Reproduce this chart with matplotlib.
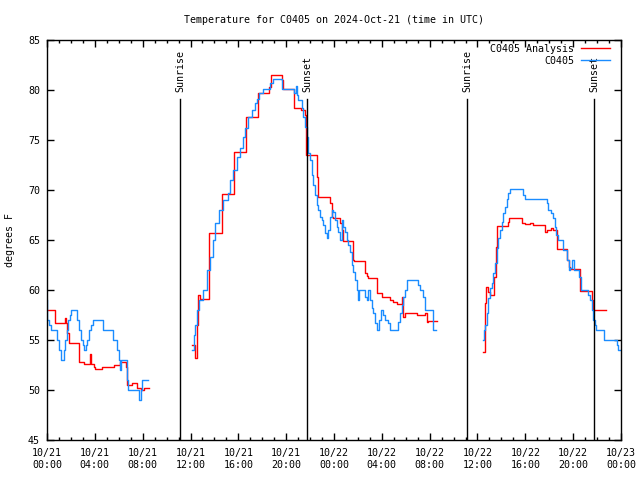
import matplotlib
matplotlib.use("Agg")
import matplotlib.pyplot as plt
from datetime import datetime, timedelta

# hours since 2024-10-21 00:00 UTC, temperature in degrees F
# ---- C0405 Analysis (red) ----
ana_am_h = [0.0, 0.65, 1.48, 1.59, 1.70, 1.84, 2.70, 3.09, 3.60, 3.65, 3.71, 3.93, 4.04,
            4.63, 5.60, 6.10, 6.58, 6.65, 7.14, 7.50, 7.83, 8.11, 8.53]
ana_am_t = [58.0, 56.7, 57.2, 56.7, 55.7, 54.7, 52.8, 52.6, 53.6, 52.9, 52.6, 52.3, 52.1,
            52.3, 52.5, 52.8, 52.3, 50.5, 50.7, 50.2, 50.0, 50.2, 50.2]
ana_day_h = [12.15, 12.38, 12.57, 12.63, 12.80, 13.57, 14.60, 15.67, 16.64, 17.62, 18.59,
             18.73, 19.63, 19.77, 20.66, 21.24, 21.58, 21.69, 22.55, 22.65, 23.67, 23.81,
             23.94, 24.50, 24.64, 24.78, 25.62, 25.70, 26.59, 26.73, 26.87, 27.62, 27.99,
             28.68, 28.96, 29.24, 29.66, 29.80, 29.94, 30.92, 31.62, 31.76, 31.85, 32.60]
ana_day_t = [54.5, 53.2, 56.5, 59.5, 59.1, 65.7, 69.6, 73.8, 77.3, 79.7, 80.3,
             81.5, 81.0, 80.1, 78.2, 78.0, 77.5, 73.5, 71.3, 69.3, 68.7, 67.3,
             67.2, 66.7, 66.0, 64.9, 63.0, 62.9, 61.7, 61.4, 61.2, 59.7, 59.3,
             59.0, 58.8, 58.6, 59.3, 57.3, 57.7, 57.5, 57.7, 56.8, 56.9, 56.9]
ana_d2_h = [36.49, 36.60, 36.70, 36.88, 37.05, 37.38, 37.52, 37.63, 38.58, 38.67, 39.70,
            39.97, 40.39, 40.67, 41.65, 41.79, 42.16, 42.35, 42.63, 43.47, 43.61, 43.75,
            44.58, 45.61, 45.70, 46.73]
ana_d2_t = [53.8, 58.7, 60.3, 59.8, 59.5, 61.3, 64.3, 66.4, 66.8, 67.2, 66.7,
            66.6, 66.7, 66.5, 65.8, 66.0, 66.2, 66.0, 64.1, 63.0, 62.3, 62.1,
            59.9, 59.0, 58.0, 58.0]

# ---- C0405 observations (blue) ----
obs_am_h = [0.0, 0.03, 0.14, 0.36, 0.81, 0.98, 1.14, 1.42, 1.53, 1.64, 1.76, 1.92, 2.03,
            2.54, 2.65, 2.82, 2.98, 3.09, 3.26, 3.37, 3.54, 3.71, 3.87, 4.71, 5.49, 5.83,
            6.00, 6.10, 6.22, 6.72, 6.80, 7.69, 7.83, 7.97, 8.45]
obs_am_t = [59, 57, 56.5, 56, 55, 54, 53, 54, 55, 56, 57, 57.5, 58,
            57, 56, 55, 54.5, 54, 54.5, 55, 56, 56.5, 57, 56, 55, 54,
            53, 52, 53, 51, 50, 49, 50, 51, 51]
obs_day_h = [12.15, 12.26, 12.38, 12.52, 12.71, 13.07, 13.35, 13.63, 13.85, 14.05, 14.41,
             14.75, 15.16, 15.30, 15.58, 15.86, 16.14, 16.36, 16.56, 16.84, 17.12, 17.39,
             17.59, 17.76, 18.09, 18.65, 18.93, 19.63, 20.66, 20.80, 20.88, 21.02, 21.30,
             21.44, 21.58, 21.72, 21.85, 21.99, 22.13, 22.27, 22.41, 22.55, 22.70, 22.83,
             22.97, 23.11, 23.25, 23.39, 23.53, 23.67, 23.81, 23.94, 24.08, 24.22, 24.36,
             24.50, 24.64, 24.78, 24.92, 25.06, 25.20, 25.34, 25.48, 25.62, 25.76, 25.90,
             26.04, 26.13, 26.59, 26.73, 26.87, 27.01, 27.15, 27.29, 27.43, 27.57, 27.79,
             27.93, 28.06, 28.27, 28.55, 28.68, 29.38, 29.52, 29.66, 29.80, 29.94, 30.08,
             31.06, 31.20, 31.48, 31.62, 32.31, 32.51]
obs_day_t = [54, 55.5, 56.5, 58, 59, 60, 62, 63.3, 65, 66.7, 68,
             69, 69.7, 71, 72, 73.3, 74.2, 75.3, 76.2, 77.3, 78, 78.7,
             79.1, 79.7, 80.1, 80.7, 81.1, 80.1, 79.7, 80.4, 79.5, 79, 78.2,
             77.3, 76.3, 75.3, 73.7, 73, 71.5, 70.5, 69.5, 68.5, 68, 67.3,
             67, 66.5, 65.7, 65.2, 66, 67.3, 68, 67.8, 67, 66.3, 65.8,
             65, 67, 66.3, 65.8, 65, 64.5, 63.8, 62.5, 61.8, 61, 60,
             59, 60, 59.3, 59, 60, 59, 58.2, 57.7, 56.7, 56, 57,
             58, 57.5, 57, 56.7, 56, 56.8, 57.7, 58.5, 59.3, 60, 61,
             60.5, 60, 59.3, 58, 56, 56]
obs_d2_h = [36.49, 36.57, 36.63, 36.77, 36.91, 37.05, 37.19, 37.33, 37.47, 37.60, 37.74,
            37.88, 38.02, 38.16, 38.30, 38.44, 38.58, 38.72, 39.83, 39.97, 41.79, 41.93,
            42.16, 42.30, 42.44, 42.58, 42.72, 43.11, 43.47, 43.66, 43.77, 43.94, 44.11,
            44.50, 44.66, 45.28, 45.42, 45.56, 45.70, 45.84, 45.92, 46.54, 47.51, 47.65,
            47.79, 47.93]
obs_d2_t = [55, 56, 56.5, 57.7, 59.2, 60.2, 60.7, 61.7, 62.7, 64.2, 65.2,
            66, 66.8, 67.7, 68.3, 69.1, 69.7, 70.1, 69.5, 69.1, 68.7, 68,
            67.7, 67.2, 66.3, 65.5, 65, 64, 63, 62, 62.2, 63, 62,
            61.3, 60, 59.5, 59, 58, 57, 56.5, 56, 55, 55, 54.5,
            54, 54]

sun_hours = [11.13, 21.75, 35.13, 45.77]
sun_labels = ["Sunrise", "Sunset", "Sunrise", "Sunset"]

start = datetime(2024, 10, 21)
xtick_hours = list(range(0, 49, 4))

plt.rcParams["font.family"] = ["DejaVu Sans Mono"]
plt.rcParams["font.size"] = 7.2

red = "#ff0000"
blue = "#1a8cff"

fig = plt.figure(figsize=(6.4, 4.8), dpi=100)
ax = fig.add_axes([47 / 640, 40 / 480, 574 / 640, 400 / 480])

# analysis first so the obs line is on top
first = True
for h, t in [(ana_am_h, ana_am_t), (ana_day_h, ana_day_t), (ana_d2_h, ana_d2_t)]:
    ax.step(h, t, where="post", color=red, lw=1.0,
            label="C0405 Analysis" if first else None)
    first = False
first = True
for h, t in [(obs_am_h, obs_am_t), (obs_day_h, obs_day_t), (obs_d2_h, obs_d2_t)]:
    ax.step(h, t, where="post", color=blue, lw=1.0,
            label="C0405" if first else None)
    first = False

# sunrise / sunset markers
for h, lab in zip(sun_hours, sun_labels):
    ax.axvline(h, ymin=0, ymax=0.853, color="black", lw=1.0)
    ax.text(h, 0.87, lab, rotation=90, ha="center", va="bottom",
            transform=ax.get_xaxis_transform())

ax.set_xlim(0, 48)
ax.set_ylim(45, 85)
ax.set_xticks(xtick_hours)
ax.set_xticklabels([(start + timedelta(hours=h)).strftime("%m/%d\n%H:%M") for h in xtick_hours],
                   linespacing=1.3)
ax.set_xticks(range(0, 49), minor=True)
ax.set_yticks(range(45, 86, 5))

ax.tick_params(which="both", direction="in", top=True, right=True, width=1)
ax.tick_params(which="major", length=5)
ax.tick_params(which="minor", length=2.5)
ax.tick_params(axis="x", pad=5.5)
ax.tick_params(axis="y", pad=5)
for sp in ax.spines.values():
    sp.set_linewidth(1.0)

ax.set_ylabel("degrees F")
ax.yaxis.set_label_coords(-0.056, 0.5)

fig.text((47 + 621) / 2 / 640, 1 - 20 / 480,
         "Temperature for C0405 on 2024-Oct-21 (time in UTC)", ha="center", va="center")

ax.legend(loc="upper right", bbox_to_anchor=(0.981, 0.99), frameon=False, markerfirst=False,
          handlelength=2.9, handletextpad=0.7, labelspacing=0.2, borderpad=0, borderaxespad=0)

fig.savefig("out.png", dpi=100)
